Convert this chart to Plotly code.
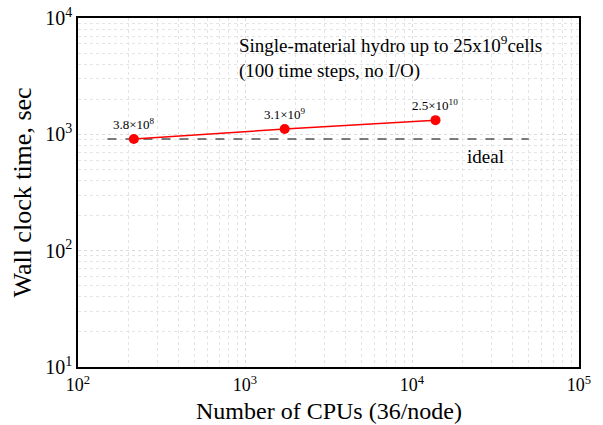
import math
import plotly.graph_objects as go

cpus = [216, 1728, 13824]
times = [912, 1110, 1324]
cell_labels = ["3.8×10<sup>8</sup>", "3.1×10<sup>9</sup>", "2.5×10<sup>10</sup>"]
ideal_x = [150, 50000]
ideal_y = [912, 912]
x_ticks = [100, 1000, 10000, 100000]
x_ticktext = ["10<sup>2</sup>", "10<sup>3</sup>", "10<sup>4</sup>", "10<sup>5</sup>"]
y_ticks = [10, 100, 1000, 10000]
y_ticktext = ["10<sup>1</sup>", "10<sup>2</sup>", "10<sup>3</sup>", "10<sup>4</sup>"]

FONT = "Liberation Serif"

fig = go.Figure()
fig.add_trace(go.Scatter(x=ideal_x, y=ideal_y, mode="lines",
                         line=dict(color="black", width=1.1, dash="dash"),
                         showlegend=False, hoverinfo="skip"))
fig.add_trace(go.Scatter(x=cpus, y=times, mode="lines+markers",
                         line=dict(color="red", width=1.5),
                         marker=dict(color="red", size=10),
                         showlegend=False))
for xv, yv, t in zip(cpus, times, cell_labels):
    fig.add_annotation(x=math.log10(xv), y=math.log10(yv), xref="x", yref="y", text=t,
                       showarrow=False, yshift=15,
                       font=dict(family=FONT, size=13, color="black"))
fig.add_annotation(x=math.log10(ideal_x[1]), y=math.log10(ideal_y[0]), xref="x", yref="y",
                   text="ideal", showarrow=False, xshift=-43, yshift=-18,
                   font=dict(family=FONT, size=19, color="black"))
fig.add_annotation(xref="paper", yref="paper", x=0.318, y=0.965, xanchor="left", yanchor="top",
                   align="left", showarrow=False,
                   text="Single-material hydro up to 25x10<sup>9</sup>cells<br>(100 time steps, no I/O)",
                   font=dict(family=FONT, size=19, color="black"))
# x-axis title placed just under the tick labels
fig.add_annotation(xref="paper", yref="paper", x=0.5, y=-0.166, xanchor="center",
                   yanchor="bottom", showarrow=False, text="Number of CPUs (36/node)",
                   borderpad=0,
                   font=dict(family=FONT, size=24, color="black"))

fig.update_xaxes(type="log", range=[2, 5], tickvals=x_ticks, ticktext=x_ticktext,
                 showline=True, linecolor="black", linewidth=1.5, mirror=True,
                 showgrid=True, gridcolor="#dcdcdc", griddash="dot", gridwidth=1,
                 minor=dict(showgrid=True, gridcolor="#e4e4e4", griddash="dot", gridwidth=1,
                            tickvals=[a * 10**e for e in (2, 3, 4) for a in range(2, 10)]),
                 ticks="", zeroline=False, automargin=False, ticklabelstandoff=1,
                 tickfont=dict(family=FONT, size=18, color="black"))
fig.update_yaxes(type="log", range=[1, 4], tickvals=y_ticks, ticktext=y_ticktext,
                 showline=True, linecolor="black", linewidth=1.5, mirror=True,
                 showgrid=True, gridcolor="#dcdcdc", griddash="dot", gridwidth=1,
                 minor=dict(showgrid=True, gridcolor="#e4e4e4", griddash="dot", gridwidth=1,
                            tickvals=[a * 10**e for e in (1, 2, 3) for a in range(2, 10)]),
                 ticks="", zeroline=False, automargin=False,
                 tickfont=dict(family=FONT, size=20, color="black"),
                 title=dict(text="Wall clock time, sec", standoff=6,
                            font=dict(family=FONT, size=26, color="black")))
fig.update_layout(width=603, height=425, margin=dict(l=78, r=24, t=18, b=58),
                  plot_bgcolor="white", paper_bgcolor="white",
                  font=dict(family=FONT))
fig.write_html("out.html")
